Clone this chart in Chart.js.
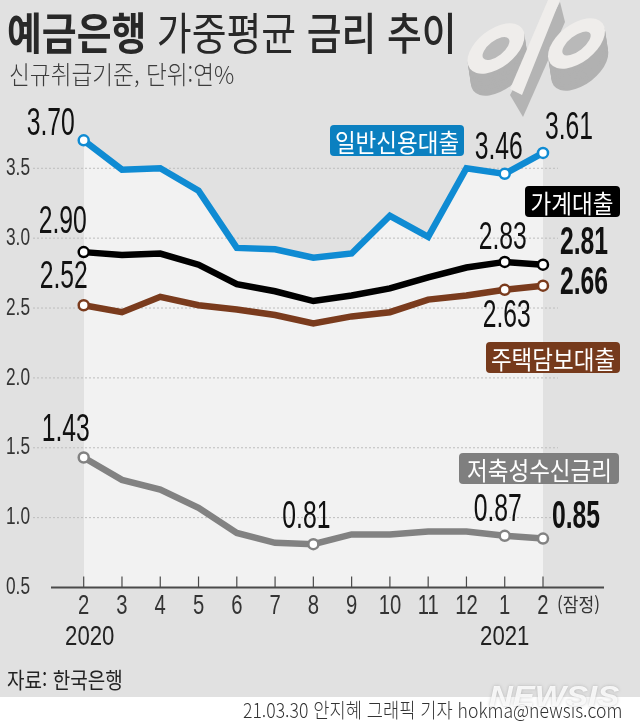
<!DOCTYPE html>
<html lang="ko">
<head>
<meta charset="utf-8">
<title>예금은행 가중평균 금리 추이</title>
<script src="https://cdn.jsdelivr.net/npm/chart.js@4"></script>
<style>
  html, body { margin: 0; padding: 0; background: #fff; }
  #page { position: relative; width: 640px; height: 724px; overflow: hidden; font-family: "Noto Sans CJK KR", sans-serif; }
  #panel { position: absolute; left: 0; top: 0; width: 640px; height: 697px; background: #e1e1e1; }
  #chart { position: absolute; left: 0; top: 0; }
  #pct { position: absolute; left: 0; top: 0; }
  .txt { position: absolute; white-space: nowrap; transform-origin: 0 0; line-height: 1; }
  .pill { position: absolute; border-radius: 4px; color: #fff; display: flex; align-items: center; justify-content: center; overflow: hidden; }
  .pill span { display: inline-block; white-space: nowrap; font-size: 25px; transform: scaleX(.9); }
</style>
</head>
<body>
<div id="page">
  <div id="panel"></div>
  <svg id="pct" width="640" height="140">
    <g id="ovalLeft"></g>
    <polygon points="560,2 565,22 523,117 510,95" fill="#b4b4b4"/>
    <polygon points="548,0 560,0 522,95 510,89" fill="#efedeb"/>
    <g id="ovalRight"></g>
  </svg>
  <canvas id="chart" width="640" height="724"></canvas>

  <div class="txt" style="left:7px;top:9px;font-size:44px;color:#282828;transform:scaleX(.86)"><span style="font-weight:700">예금은행</span> <span style="font-weight:400">가중평균</span> <span style="font-weight:500">금리 추이</span></div>
  <div class="txt" style="left:9px;top:61px;font-size:25px;color:#3c3c3c;font-weight:300;transform:scaleX(.905)">신규취급기준, 단위:연%</div>
  <div class="txt" style="left:557px;top:594px;font-size:19px;color:#333;transform:scaleX(.9)">(잠정)</div>
  <div class="txt" style="left:7px;top:668px;font-size:21.5px;color:#222;transform:scaleX(.885)">자료: 한국은행</div>
  <div class="txt" style="left:243px;top:700px;font-size:20px;color:#333;font-weight:300;transform:scaleX(.88)">21.03.30 안지혜 그래픽 기자 hokma@newsis.com</div>
  <div class="txt" style="left:489px;top:681px;font-family:'Liberation Sans';font-weight:bold;font-style:italic;font-size:30px;color:rgba(255,255,255,.85);text-shadow:0 0 3px rgba(120,120,120,.45);transform:scaleX(1.1)">NEWSIS</div>

  <div class="pill" style="left:330px;top:125px;width:134px;height:31px;background:#0b80c0"><span>일반신용대출</span></div>
  <div class="pill" style="left:525px;top:186px;width:95px;height:31px;background:#000"><span>가계대출</span></div>
  <div class="pill" style="left:486px;top:342px;width:134px;height:31px;background:#763a1c"><span>주택담보대출</span></div>
  <div class="pill" style="left:459px;top:453px;width:160px;height:31px;background:#7f7f7f"><span>저축성수신금리</span></div>
</div>

<script>
var months = ['2', '3', '4', '5', '6', '7', '8', '9', '10', '11', '12', '1', '2'];
var yearTicks = ['2020', '', '', '', '', '', '', '', '', '', '', '2021', ''];

var creditLoan = [3.70, 3.49, 3.50, 3.34, 2.93, 2.92, 2.86, 2.89, 3.16, 3.01, 3.50, 3.46, 3.61];
var householdLoan = [2.90, 2.88, 2.89, 2.81, 2.67, 2.62, 2.55, 2.59, 2.64, 2.72, 2.79, 2.83, 2.81];
var mortgageLoan = [2.52, 2.47, 2.58, 2.52, 2.49, 2.45, 2.39, 2.44, 2.47, 2.56, 2.59, 2.63, 2.66];
var savingsRate = [1.43, 1.27, 1.20, 1.07, 0.89, 0.82, 0.81, 0.88, 0.88, 0.90, 0.90, 0.87, 0.85];

// which points get a ring marker, per series
var creditMarked = [0, 11, 12];
var householdMarked = [0, 11, 12];
var mortgageMarked = [0, 11, 12];
var savingsMarked = [0, 6, 11, 12];

// where the value labels sit relative to their point: series, index, dx, dy, heavy
var valueLabels = [
	[0, 0, -33, -16, 0], [0, 11, -6, -25, 0], [0, 12, 26, -24, 0],
	[1, 0, -21, -30, 0], [1, 11, -2, -23, 0], [1, 12, 41, -21, 1],
	[2, 0, -20, -28, 0], [2, 11, 2, 27, 0], [2, 12, 41, -2, 1],
	[3, 0, -18, -27, 0], [3, 6, -7, -27, 0], [3, 11, -7, -25, 0], [3, 12, 33, -21, 1]
];

// percent sign ornament: stacked ellipses make the extruded side
function oval(id, cx, cy, holeRx) {
	var g = document.getElementById(id), html = '';
	for (var d = 22; d > 0; d -= 2) {
		html += '<ellipse cx="' + (cx + d * 0.15) + '" cy="' + (cy + d) + '" rx="33" ry="19" fill="#b1b1b1" transform="rotate(-38 ' + (cx + d * 0.15) + ' ' + (cy + d) + ')"/>';
	}
	html += '<ellipse cx="' + cx + '" cy="' + cy + '" rx="33" ry="19" fill="#efedeb" transform="rotate(-38 ' + cx + ' ' + cy + ')"/>';
	html += '<ellipse cx="' + cx + '" cy="' + cy + '" rx="' + holeRx + '" ry="7.5" fill="#b9b9b9" transform="rotate(-38 ' + cx + ' ' + cy + ')"/>';
	g.innerHTML = html;
}
oval('ovalLeft', 496, 48.5, 16);
oval('ovalRight', 576.5, 43.5, 17);

function rings(marked, size) {
	return months.map(function (m, i) { return marked.indexOf(i) >= 0 ? size : 0; });
}

function lineSet(label, values, color, marked) {
	return {
		label: label,
		data: values,
		borderColor: color,
		borderWidth: 6.5,
		borderJoinStyle: 'miter',
		tension: 0,
		clip: false,
		fill: false,
		pointRadius: rings(marked, 5),
		pointBackgroundColor: '#fff',
		pointBorderColor: color,
		pointBorderWidth: 2.5
	};
}

function condensed(ctx, text, x, y, font, sx, color, align) {
	ctx.save();
	ctx.translate(x, y);
	ctx.scale(sx, 1);
	ctx.font = font;
	ctx.fillStyle = color;
	ctx.textAlign = align || 'center';
	ctx.textBaseline = 'middle';
	ctx.fillText(text, 0, 0);
	ctx.restore();
}

var frame = {
	id: 'frame',
	beforeDatasetsDraw: function (chart) {
		var ctx = chart.ctx, x = chart.scales.x, y = chart.scales.y;
		ctx.save();
		// dotted guides run past the plot on both sides
		ctx.strokeStyle = '#bdbdbd';
		ctx.lineWidth = 1;
		ctx.setLineDash([2, 2]);
		y.ticks.forEach(function (t) {
			if (t.value <= 0.5) return;
			var py = y.getPixelForValue(t.value);
			ctx.beginPath();
			ctx.moveTo(33, py);
			ctx.lineTo(558, py);
			ctx.stroke();
		});
		ctx.setLineDash([]);
		ctx.strokeStyle = '#4a4a4a';
		ctx.lineWidth = 2;
		var base = y.getPixelForValue(0.5);
		ctx.beginPath();
		ctx.moveTo(51, base);
		ctx.lineTo(604, base);
		ctx.stroke();
		ctx.lineWidth = 1.2;
		months.forEach(function (m, i) {
			var px = x.getPixelForValue(i);
			ctx.beginPath();
			ctx.moveTo(px, base - 11);
			ctx.lineTo(px, base);
			ctx.stroke();
		});
		ctx.restore();
	},
	afterDatasetsDraw: function (chart) {
		var ctx = chart.ctx, x = chart.scales.x, y = chart.scales.y;
		valueLabels.forEach(function (v) {
			var el = chart.getDatasetMeta(v[0]).data[v[1]];
			var value = chart.data.datasets[v[0]].data[v[1]];
			var font = (v[4] ? 'bold ' : '') + '38px "Liberation Sans"';
			condensed(ctx, value.toFixed(2), el.x + v[2], el.y + v[3], font, 0.65, '#111');
		});
		// the library's ticks are hidden because canvas fonts cannot be condensed
		y.ticks.forEach(function (t) {
			condensed(ctx, t.value.toFixed(1), 30, y.getPixelForValue(t.value), '24px "Liberation Sans"', 0.72, '#333', 'right');
		});
		months.forEach(function (m, i) {
			condensed(ctx, m, x.getPixelForValue(i), 607, '27px "Liberation Sans"', 0.75, '#333');
		});
		yearTicks.forEach(function (t, i) {
			if (!t) return;
			var shift = i === 0 ? 6 : 0;
			condensed(ctx, t, x.getPixelForValue(i) + shift, 638, '27px "Liberation Sans"', 0.82, '#222');
		});
	}
};

var chart = new Chart(document.getElementById('chart'), {
	type: 'line',
	data: {
		labels: months,
		datasets: [
			Object.assign(lineSet('일반신용대출', creditLoan, '#0f8bd3', creditMarked), { fill: 'start', backgroundColor: '#f2f2f2' }),
			lineSet('가계대출', householdLoan, '#000', householdMarked),
			lineSet('주택담보대출', mortgageLoan, '#7a3b1d', mortgageMarked),
			lineSet('저축성수신금리', savingsRate, '#828282', savingsMarked)
		]
	},
	options: {
		responsive: false,
		animation: false,
		devicePixelRatio: 1,
		layout: { padding: { top: 98.4, right: 97, bottom: 86.5, left: 0 } },
		plugins: {
			legend: { display: false },
			tooltip: { enabled: false },
			filler: { drawTime: 'beforeDraw' }
		},
		scales: {
			x: {
				type: 'category',
				offset: false,
				grid: { display: false },
				border: { display: false },
				afterFit: function (s) { s.height = 50; },
				ticks: { display: false, autoSkip: false, maxRotation: 0 }
			},
			y: {
				min: 0.5,
				max: 4,
				grid: { display: false },
				border: { display: false },
				afterFit: function (s) { s.width = 83.7; },
				afterBuildTicks: function (s) {
					s.ticks = s.ticks.filter(function (t) { return t.value <= 3.5; });
				},
				ticks: { display: false, stepSize: 0.5 }
			}
		}
	},
	plugins: [frame]
});
</script>
</body>
</html>
